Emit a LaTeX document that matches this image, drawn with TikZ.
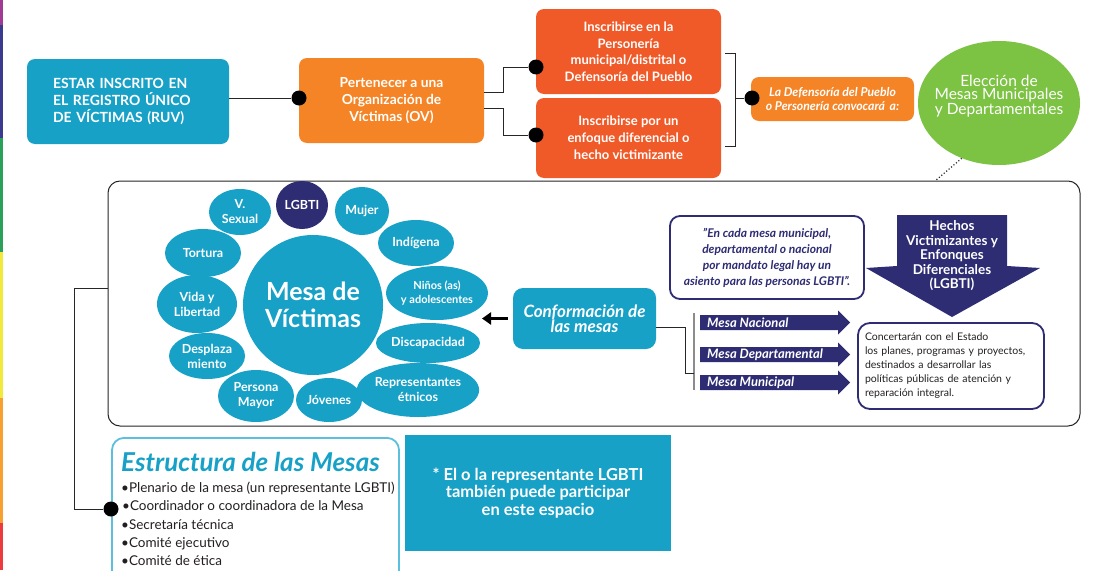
\documentclass[tikz,border=0pt]{standalone}
\usepackage{fontspec}
\setmainfont{Lato}
\usetikzlibrary{shapes.geometric,arrows.meta}
\definecolor{cteal}{HTML}{17A1C7}
\definecolor{corange}{HTML}{F58426}
\definecolor{cred}{HTML}{F05A28}
\definecolor{cgreen}{HTML}{7CC243}
\definecolor{cnavy}{HTML}{2E2C73}
\definecolor{clight}{HTML}{5CBFDD}
\definecolor{ctext}{HTML}{231F20}
\definecolor{smag}{HTML}{A03A95}
\definecolor{spur}{HTML}{3A3A8F}
\definecolor{sgreen}{HTML}{2BA05A}
\definecolor{syel}{HTML}{F2EA3A}
\definecolor{sora}{HTML}{F7A030}
\definecolor{sred}{HTML}{EE3A3C}
\newcommand{\fsz}[2]{\fontsize{#1}{#2}\selectfont}
\newcommand{\mesarrow}[3]{%
  \fill[cnavy] (700,#1-7.5) -- (838,#1-7.5) -- (838,#1-12) -- (850,#1) -- (838,#1+12) -- (838,#1+7.5) -- (700,#1+7.5) -- cycle;
  \node[mtxt, anchor=west] (#3) at (707,#1) {#2};}
\tikzset{
  box/.style={rounded corners=8pt, inner sep=0pt, align=center, text=white, font=\bfseries\fsz{13.5}{17}},
  dot/.style={circle, fill=black, inner sep=0pt, minimum size=15pt},
  bub/.style={ellipse, fill=cteal, inner sep=0pt, text=white, align=center, font=\bfseries\fsz{12.5}{15}},
  link/.style={draw=black!85, line width=1pt},
  mtxt/.style={inner sep=0pt, text=white, font=\bfseries\itshape\fsz{13}{15}},
}
\begin{document}
\begin{tikzpicture}[x=1pt,y=-1pt]
\clip (0,0) rectangle (1097,570);
\fill[white] (0,0) rectangle (1097,570);
% rainbow stripe
\fill[smag] (0,0) rectangle (3,25);
\fill[spur] (0,25) rectangle (3,138);
\fill[sgreen] (0,138) rectangle (3,252);
\fill[syel] (0,252) rectangle (3,398);
\fill[sora] (0,398) rectangle (3,523);
\fill[sred] (0,523) rectangle (3,570);

% top row
\node[box, fill=cteal, minimum width=202pt, minimum height=85pt, text width=150pt, align=left, font=\bfseries\fsz{14}{17}] (ruv) at (128,101.5)
  {ESTAR INSCRITO EN\\EL REGISTRO ÚNICO\\DE VÍCTIMAS (RUV)};
\node[box, fill=corange, minimum width=185pt, minimum height=85pt, font=\bfseries\fsz{13.8}{17}] (ov) at (391.5,100.5)
  {Pertenecer a una\\Organización de\\Víctimas (OV)};
\node[box, fill=cred, minimum width=185pt, minimum height=85pt, font=\bfseries\fsz{13}{16.5}] (b1) at (628.5,51.5)
  {Inscribirse en la\\Personería\\municipal/distrital o\\Defensoría del Pueblo};
\node[box, fill=cred, minimum width=185pt, minimum height=80pt, font=\bfseries\fsz{13}{17}] (b2) at (628.5,138)
  {Inscribirse por un\\enfoque diferencial o\\hecho victimizante};
\node[box, fill=corange, minimum width=163pt, minimum height=44pt, font=\bfseries\itshape\fsz{12.2}{14}] (conv) at (832.5,99)
  {La Defensoría del Pueblo\\o Personería convocará\, a:};
\node[ellipse, fill=cgreen, inner sep=0pt, minimum width=162pt, minimum height=124pt] (elec) at (999,103) {};
\node[inner sep=0pt, text=white, align=center, font=\fsz{15.5}{13.5}] (elect) at (999,96)
  {Elección de\\Mesas Municipales\\y Departamentales};

\node[dot] (d1) at (299,98) {};
\node[dot] (d2) at (536,67) {};
\node[dot] (d3) at (536,135) {};
\node[dot] (d4) at (752,98) {};

\draw[link] (ruv.east |- d1) -- (d1);
\draw[link] ([yshift=8.5pt]ov.east) -- ++(19,0) |- (d2);
\draw[link] ([yshift=-7.5pt]ov.east) -- ++(19,0) |- (d3);
\coordinate (brt) at (725,53);
\coordinate (brb) at (725,146);
\coordinate (brj) at (735,98);
\draw[link] (brt) -| (brj) |- (brb);
\draw[link] (brj) -- (d4);

% big frame
\node[draw=black!85, line width=1pt, rounded corners=12pt, minimum width=972pt, minimum height=245pt, inner sep=0pt] (frame) at (594,303.5) {};
\coordinate (dotend) at (935,181);
\draw[black!80, line width=1.2pt, dotted] (elec.-124) -- (dotend);

% bubbles
\node[bub, minimum width=140pt, minimum height=140pt, font=\bfseries\fsz{25}{27}] (mesa) at (313,305) {Mesa de\\Víctimas};
\node[bub, fill=cnavy, minimum width=52pt, minimum height=48pt] (lgbti) at (302,205) {LGBTI};
\node[bub, minimum width=62pt, minimum height=46pt] (vsex) at (240,212) {V.\\Sexual};
\node[bub, minimum width=54pt, minimum height=48pt] (mujer) at (362,211) {Mujer};
\node[bub, minimum width=76pt, minimum height=48pt] (tort) at (203,253) {Tortura};
\node[bub, minimum width=76pt, minimum height=46pt] (indi) at (416,243) {Indígena};
\node[bub, minimum width=80pt, minimum height=58pt] (vida) at (197,304) {Vida y\\Libertad};
\node[bub, minimum width=94pt, minimum height=54pt, font=\bfseries\fsz{11}{14}] (nin) at (437,293) {Niños (as)\\y adolescentes};
\node[bub, minimum width=76pt, minimum height=46pt] (desp) at (207,356) {Desplaza\\miento};
\node[bub, minimum width=90pt, minimum height=40pt] (disc) at (428,343) {Discapacidad};
\node[bub, minimum width=76pt, minimum height=52pt] (pers) at (256,396) {Persona\\Mayor};
\node[bub, minimum width=66pt, minimum height=44pt] (jov) at (329,400) {Jóvenes};
\node[bub, minimum width=104pt, minimum height=54pt] (rep) at (418,390) {Representantes\\étnicos};

% conformacion
\node[box, fill=cteal, rounded corners=10pt, minimum width=143pt, minimum height=61pt, font=\bfseries\itshape\fsz{17}{15}] (conf) at (584.5,318.5)
  {Conformación de\\las mesas};
\coordinate (arrtip) at (482,318.5);
\draw[line width=3.5pt, -{Triangle[length=9pt,width=12pt]}] ([xshift=-5pt]conf.west) -- (arrtip);

\coordinate (bartop) at (694,313);
\coordinate (barbot) at (694,390);
\coordinate (barj) at (694,373);
\draw[black!45, line width=2pt] (bartop) -- (barbot);
\draw[link] ([yshift=-8.5pt]conf.east) -- ++(29,0) |- (barj);

\mesarrow{322.5}{Mesa Nacional}{mn}
\mesarrow{354.5}{Mesa Departamental}{md}
\mesarrow{382.5}{Mesa Municipal}{mm}

% quote box
\node[draw=cnavy, line width=1.8pt, rounded corners=10pt, fill=white, minimum width=194pt, minimum height=83pt, inner sep=0pt,
  text=cnavy, align=center, font=\bfseries\itshape\fsz{12}{16}] (quote) at (767,257.5)
  {"En cada mesa municipal,\\departamental o nacional\\por mandato legal hay un\\asiento para las personas LGBTI".};

% hechos arrow
\fill[cnavy] (897,215) -- (1007,215) -- (1007,266) -- (1040,268) -- (952,317) -- (866,268) -- (897,266) -- cycle;
\node[inner sep=0pt, text=white, align=center, font=\bfseries\fsz{13.5}{14.5}] (hechos) at (952,256)
  {Hechos\\Victimizantes y\\Enfonques\\Diferenciales\\(LGBTI)};

% concertaran
\node[draw=cnavy, line width=1.8pt, rounded corners=12pt, minimum width=186pt, minimum height=86pt, inner sep=0pt,
  text=ctext, text width=172pt, align=left, font=\fsz{10.5}{14}] (conc) at (951,366)
  {Concertarán con el Estado\\los planes, programas y proyectos,\\destinados a desarrollar las\\políticas públicas de atención y\\reparación integral.};

% estructura
\node[draw=clight, line width=1.8pt, rounded corners=12pt, minimum width=287pt, minimum height=150pt, inner sep=0pt, anchor=north] (estr) at (255.5,437) {};
\node[inner sep=0pt, anchor=west, text=cteal, font=\bfseries\itshape\fsz{26}{28}] (estrt) at (121,462) {Estructura de las Mesas};
\node[inner sep=0pt, anchor=north west, text=ctext, align=left, font=\fsz{13.5}{18.3}] (estrl) at (121,482)
  {•Plenario de la mesa (un representante LGBTI)\\\hspace*{1pt}•Coordinador o coordinadora de la Mesa\\•Secretaría técnica\\•Comité ejecutivo\\•Comité de ética};
\node[dot] (d5) at (111,509) {};
\draw[link] ([yshift=15.5pt]frame.west) -- ++(-33,0) |- (d5);

% note
\node[fill=cteal, minimum width=266pt, minimum height=116pt, inner sep=0pt, text=white, align=center, font=\bfseries\fsz{16.5}{17.5}] (note) at (538,493)
  {* El o la representante LGBTI\\también puede participar\\en este espacio};
\end{tikzpicture}
\end{document}
